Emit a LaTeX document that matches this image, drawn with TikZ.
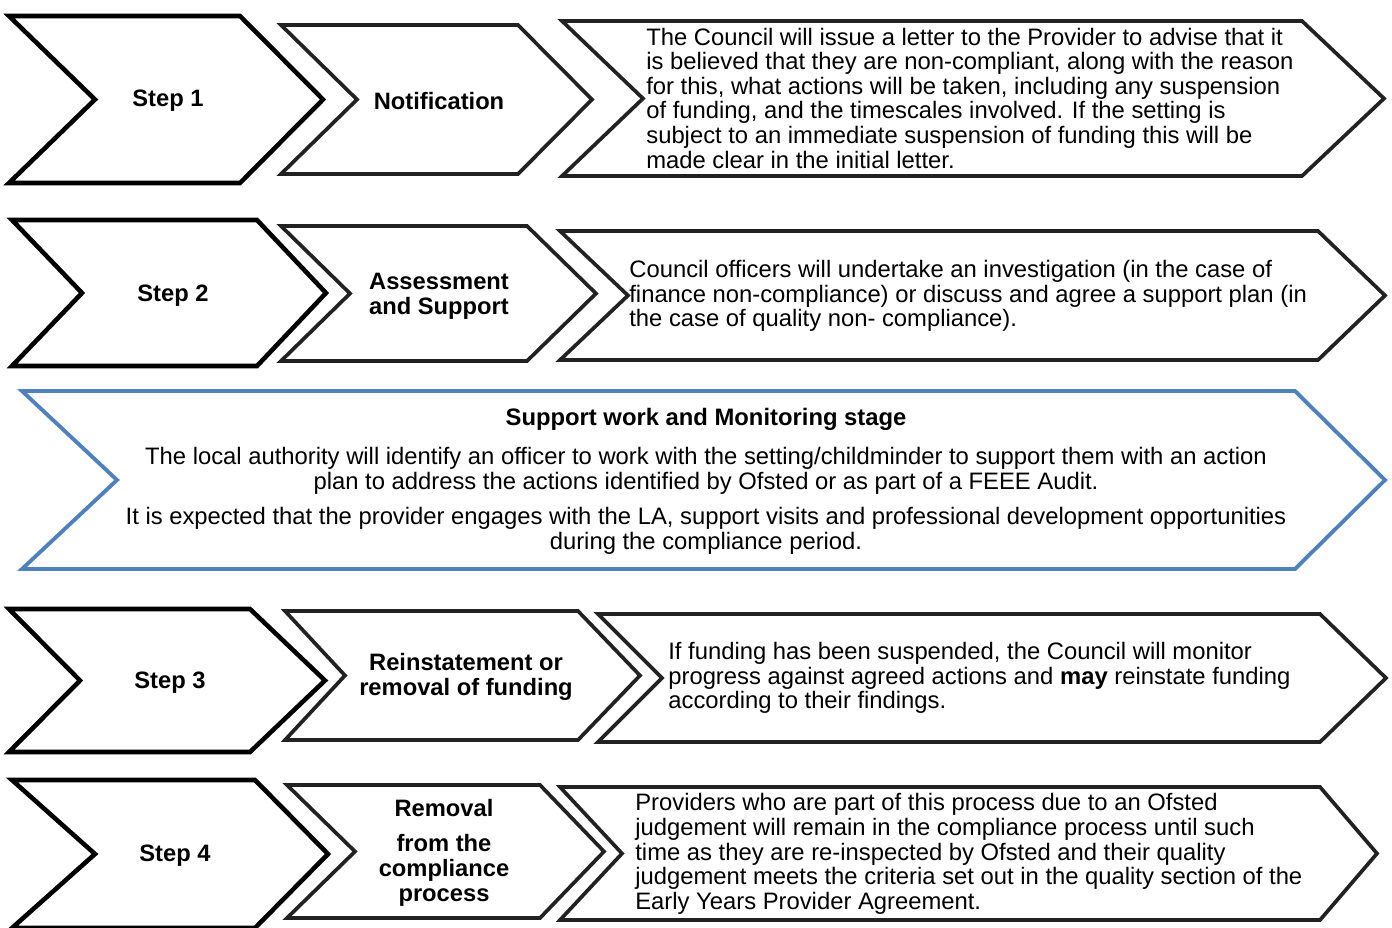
\documentclass[tikz,border=0pt]{standalone}
\usepackage{fontspec}
\setmainfont{Liberation Sans}
\usetikzlibrary{positioning}
\definecolor{stageblue}{HTML}{4F81BD}
\definecolor{edgegray}{HTML}{222222}
\newcommand{\tightlines}{\lineskiplimit=-20pt\relax}
\tikzstyle{stepline} = [draw=black, line width=2.6pt, line join=miter, fill=white]
\tikzstyle{boxline} = [draw=edgegray, line width=2.1pt, line join=miter, fill=white]
\tikzstyle{stageline} = [draw=stageblue, line width=2.2pt, line join=miter, fill=white]
\tikzstyle{label} = [font=\fontsize{13.5}{14.2}\selectfont\bfseries, align=center, inner sep=0pt]
\tikzstyle{body} = [font=\fontsize{13.55}{14}\selectfont\tightlines, align=left, anchor=west, inner sep=0pt]
\tikzstyle{stagetext} = [font=\fontsize{13.55}{14}\selectfont\tightlines, align=center, inner sep=0pt]
% chevron: left x, top-right x, tip x, notch x, top y, bottom y, style
\newcommand{\chevron}[7]{%
  \path[#7] (#1,#5) -- (#2,#5) -- (#3,{(#5+#6)/2}) -- (#2,#6) -- (#1,#6) -- (#4,{(#5+#6)/2}) -- cycle;}

\begin{document}
\begin{tikzpicture}[x=0.02cm, y=-0.02cm]
		\useasboundingbox (0,0) rectangle (1392,927);
		% row 1
		\chevron{9}{240}{323}{95}{16}{183}{stepline}
		\chevron{281}{518}{592}{357}{25}{174}{boxline}
		\chevron{562}{1302}{1384}{643}{21}{176}{boxline}
		\node(s1) [label] at (168,101) {Step 1};
		\node(n1) [label] at (439,101) {Notification};
		\node(t1) [body] at (646,98) {The Council will issue a letter to the Provider to advise that it\\is believed that they are non-compliant, along with the reason\\for this, what actions will be taken, including any suspension\\of funding, and the timescales involved. If the setting is\\subject to an immediate suspension of funding this will be\\made clear in the initial letter.};
		% row 2
		\chevron{12}{257}{326}{82}{220}{366}{stepline}
		\chevron{281}{527}{596}{350}{226}{361}{boxline}
		\chevron{560}{1318}{1385}{628}{231}{360}{boxline}
		\node(s2) [label] at (173,296) {Step 2};
		\node(n2) [label] at (439,296) {Assessment\\and Support};
		\node(t2) [body] at (629,296) {Council officers will undertake an investigation (in the case of\\finance non-compliance) or discuss and agree a support plan (in\\the case of quality non- compliance).};
		% support stage
		\chevron{22}{1295}{1385}{117}{391}{569}{stageline}
		\node(st) [stagetext, font=\fontsize{13.55}{14}\selectfont\bfseries] at (706,419) {Support work and Monitoring stage};
		\node(sp) [stagetext] at (706,501) {The local authority will identify an officer to work with the setting/childminder to support them with an action\\plan to address the actions identified by Ofsted or as part of a FEEE Audit.\\[6pt]It is expected that the provider engages with the LA, support visits and professional development opportunities\\during the compliance period.};
		% row 3
		\chevron{9}{250}{325}{80}{609}{752}{stepline}
		\chevron{285}{578}{640}{345}{611}{740}{boxline}
		\chevron{598}{1320}{1386}{662}{614}{742}{boxline}
		\node(s3) [label] at (170,683) {Step 3};
		\node(n3) [label] at (466,677) {Reinstatement or\\removal of funding};
		\node(t3) [body] at (668,678) {If funding has been suspended, the Council will monitor\\progress against agreed actions and \textbf{may} reinstate funding\\according to their findings.};
		% row 4
		\chevron{12}{255}{328}{95}{780}{928}{stepline}
		\chevron{287}{540}{604}{355}{785}{918}{boxline}
		\chevron{560}{1320}{1377}{622}{787}{920}{boxline}
		\node(s4) [label] at (175,856) {Step 4};
		\node(n4) [label] at (444,853) {Removal\\[6pt]from the\\compliance\\process};
		\node(t4) [body] at (635,854) {Providers who are part of this process due to an Ofsted\\judgement will remain in the compliance process until such\\time as they are re-inspected by Ofsted and their quality\\judgement meets the criteria set out in the quality section of the\\Early Years Provider Agreement.};
	\end{tikzpicture}
\end{document}
